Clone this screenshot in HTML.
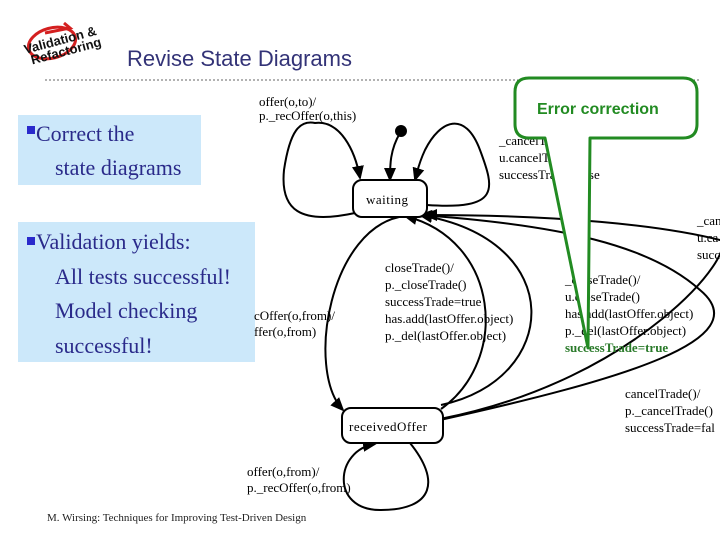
<!DOCTYPE html>
<html><head><meta charset="utf-8"><style>
html,body{margin:0;padding:0;background:#fff;width:720px;height:540px;overflow:hidden}
svg{display:block}
.s{font-family:"Liberation Serif",serif;font-size:13px;fill:#000}
.b{font-family:"Liberation Serif",serif;font-size:22px;fill:#2a2a8a}
</style></head><body>
<svg width="720" height="540" viewBox="0 0 720 540" xmlns="http://www.w3.org/2000/svg">
<defs><marker id="a" markerWidth="8" markerHeight="8" refX="6" refY="4" orient="auto"><path d="M0,1 L7,4 L0,7 z" fill="#000"/></marker></defs>
<ellipse cx="52" cy="43" rx="24" ry="15" fill="none" stroke="#d42020" stroke-width="3" transform="rotate(-15 52 43)"/>
<path d="M45,33 L70,28 L64,23" fill="none" stroke="#d42020" stroke-width="3"/>
<g transform="rotate(-15 55 45)" font-family="Liberation Sans,sans-serif" font-weight="bold" font-size="13" fill="#111">
<text x="24" y="46">Validation &amp;</text><text x="28" y="58">Refactoring</text></g>
<text x="127" y="66" font-family="Liberation Sans,sans-serif" font-size="22" fill="#333377">Revise State Diagrams</text>
<line x1="45" y1="80" x2="700" y2="80" stroke="#666" stroke-dasharray="2,2"/>
<rect x="18" y="115" width="183" height="70" fill="#cce8fa"/>
<rect x="18" y="222" width="237" height="140" fill="#cce8fa"/>
<rect x="27" y="126" width="8" height="8" fill="#2a2acc"/>
<text class="b" x="36" y="141">Correct the</text>
<text class="b" x="55" y="175">state diagrams</text>
<rect x="27" y="237" width="8" height="8" fill="#2a2acc"/>
<text class="b" x="36" y="249">Validation yields:</text>
<text class="b" x="55" y="284">All tests successful!</text>
<text class="b" x="55" y="318">Model checking</text>
<text class="b" x="55" y="353">successful!</text>
<g fill="none" stroke="#000" stroke-width="2">
<path d="M355,213 C300,225 280,210 284,170 C290,130 300,120 315,123 C340,120 355,150 360,178" marker-end="url(#a)"/>
<path d="M400,133 C390,150 390,165 390,180" marker-end="url(#a)"/>
<path d="M427,205 C500,210 495,190 480,150 C465,110 440,120 425,150 C418,165 418,170 415,180" marker-end="url(#a)"/>
<path d="M405,216 C330,225 305,370 343,410" marker-end="url(#a)"/>
<path d="M441,409 C510,360 500,240 405,216" marker-end="url(#a)"/>
<path d="M441,405 C560,380 570,240 420,215" marker-end="url(#a)"/>
<path d="M440,420 C620,380 760,340 700,290 C650,245 560,225 420,215" marker-end="url(#a)"/>
<path d="M440,419 C640,380 740,250 720,240 C660,225 560,215 425,215" marker-end="url(#a)"/>
<path d="M410,443 C440,480 435,510 380,510 C330,510 335,450 375,444" marker-end="url(#a)"/>
</g>
<rect x="353" y="180" width="74" height="37" rx="9" fill="#fff" stroke="#000" stroke-width="2"/>
<text class="s" x="366" y="204" letter-spacing="0.5">waiting</text>
<rect x="342" y="408" width="101" height="35" rx="9" fill="#fff" stroke="#000" stroke-width="2"/>
<text class="s" x="349" y="431" letter-spacing="0.5">receivedOffer</text>
<circle cx="401" cy="131" r="6" fill="#000"/>
<text class="s" x="259" y="106">offer(o,to)/</text>
<text class="s" x="259" y="120">p._recOffer(o,this)</text>
<text class="s" x="499" y="145">_cancelTrade()/</text>
<text class="s" x="499" y="162">u.cancelTrade()</text>
<text class="s" x="499" y="179">successTrade=false</text>
<text class="s" x="385" y="272">closeTrade()/</text>
<text class="s" x="385" y="289">p._closeTrade()</text>
<text class="s" x="385" y="306">successTrade=true</text>
<text class="s" x="385" y="323">has.add(lastOffer.object)</text>
<text class="s" x="385" y="340">p._del(lastOffer.object)</text>
<text class="s" x="254" y="320">cOffer(o,from)/</text>
<text class="s" x="254" y="336">ffer(o,from)</text>
<text class="s" x="565" y="284">_closeTrade()/</text>
<text class="s" x="565" y="301">u.closeTrade()</text>
<text class="s" x="565" y="318">has.add(lastOffer.object)</text>
<text class="s" x="565" y="335">p._del(lastOffer.object)</text>
<text class="s" x="565" y="352" font-weight="bold" style="fill:#2a7a2a">successTrade=true</text>
<text class="s" x="697" y="225">_can</text>
<text class="s" x="697" y="242">u.ca</text>
<text class="s" x="697" y="259">succ</text>
<text class="s" x="625" y="398">cancelTrade()/</text>
<text class="s" x="625" y="415">p._cancelTrade()</text>
<text class="s" x="625" y="432">successTrade=fal</text>
<text class="s" x="247" y="476">offer(o,from)/</text>
<text class="s" x="247" y="492">p._recOffer(o,from)</text>
<text x="47" y="521" font-family="Liberation Serif,serif" font-size="11" fill="#222">M. Wirsing: Techniques for Improving Test-Driven Design</text>
<path d="M529,78 H683 Q697,78 697,92 V124 Q697,138 683,138 H590 L588,348 L545,138 H529 Q515,138 515,124 V92 Q515,78 529,78 Z" fill="#fff" stroke="#228b22" stroke-width="3" stroke-linejoin="round"/>
<text x="537" y="114" font-family="Liberation Sans,sans-serif" font-weight="bold" font-size="16" fill="#228b22">Error correction</text>
</svg>
</body></html>
